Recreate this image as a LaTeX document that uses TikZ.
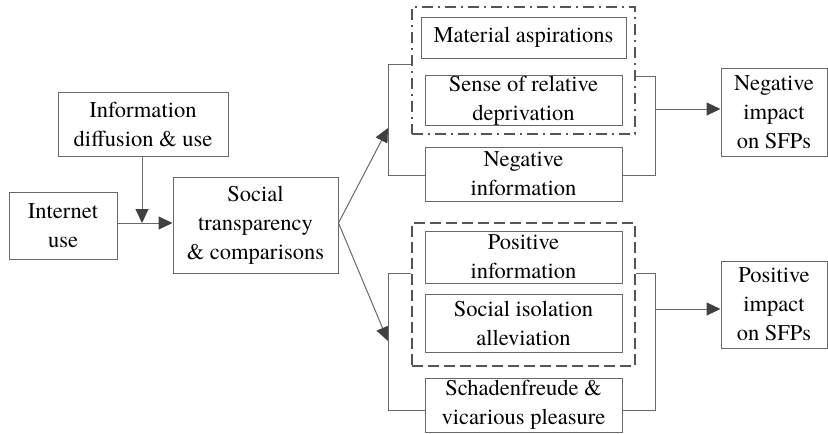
\documentclass[tikz,border=0pt]{standalone}
\usepackage{fontspec}
\setmainfont{texgyretermes}[Extension=.otf, UprightFont=*-regular, BoldFont=*-bold, ItalicFont=*-italic, BoldItalicFont=*-bolditalic]
\usetikzlibrary{arrows.meta}
\definecolor{linegray}{RGB}{105,105,105}
\definecolor{headgray}{RGB}{64,64,64}
\definecolor{grpgray}{RGB}{85,85,85}
\begin{document}
\begin{tikzpicture}[x=1pt,y=-1pt,
  box/.style={draw=linegray, line width=1pt, inner sep=0pt, align=center,
    font=\rmfamily\fontsize{22.5}{29}\selectfont, text=black},
  grpdd/.style={draw=grpgray, line width=1.8pt, inner sep=0pt,
    dash pattern=on 11pt off 5pt on 2pt off 5pt},
  grpdash/.style={draw=grpgray, line width=1.8pt, inner sep=0pt,
    dash pattern=on 11pt off 5pt},
  conn/.style={draw=linegray, line width=1pt},
  arr/.style={conn, -{Triangle[length=14pt,width=13pt,fill=headgray,color=headgray]}}
]
\useasboundingbox (0,0) rectangle (828,434);

% left part
\node[box, minimum width=170pt, minimum height=64pt] (info) at (143,124) {Information\\diffusion \& use};
\node[box, minimum width=108pt, minimum height=67pt] (inet) at (63,225.5) {Internet\\use};
\node[box, minimum width=165pt, minimum height=96pt] (soc) at (255.5,225) {Social\\transparency\\\& comparisons};

% groups
\node[grpdd, minimum width=223pt, minimum height=127pt] (ngrp) at (523.5,70.5) {};
\node[grpdash, minimum width=223pt, minimum height=143pt] (pgrp) at (523.5,294.5) {};

% middle boxes
\node[box, minimum width=205pt, minimum height=41pt] (mat) at (523.5,37.5) {Material aspirations};
\node[box, minimum width=197pt, minimum height=49pt] (sense) at (523.5,100.5) {Sense of relative\\deprivation};
\node[box, minimum width=197pt, minimum height=54pt] (neginfo) at (523.5,174) {Negative\\information};
\node[box, minimum width=197pt, minimum height=52pt] (posinfo) at (523.5,257) {Positive\\information};
\node[box, minimum width=197pt, minimum height=58pt] (iso) at (523.5,323) {Social isolation\\alleviation};
\node[box, minimum width=197pt, minimum height=54pt] (schad) at (523.5,405) {Schadenfreude \&\\vicarious pleasure};

% right boxes
\node[box, minimum width=106pt, minimum height=88pt] (negimp) at (774,112) {Negative\\impact\\on SFPs};
\node[box, minimum width=106pt, minimum height=87pt] (posimp) at (774,304.5) {Positive\\impact\\on SFPs};

% coordinates
\coordinate (join) at (142,223);
\coordinate (nlt) at (388,64);
\coordinate (nlb) at (388,175);
\coordinate (nrt) at (655,76);
\coordinate (nrb) at (655,175);
\coordinate (nrm) at (655,109);
\coordinate (plt) at (388,273);
\coordinate (plb) at (388,410);
\coordinate (prt) at (655,273);
\coordinate (prb) at (655,410);
\coordinate (prm) at (655,309);
\coordinate (nat) at (388,128);
\coordinate (pat) at (388,341);

% connectors left
\draw[arr] (inet.east |- join) -- (soc.west |- join);
\draw[arr] (info.south -| join) -- (join);

% split arrows
\draw[arr] (soc.east |- join) -- (nat);
\draw[arr] (soc.east |- join) -- (pat);

% negative brackets
\draw[conn] (ngrp.west |- nlt) -- (nlt) -- (nlb) -- (neginfo.west |- nlb);
\draw[conn] (ngrp.east |- nrt) -- (nrt) -- (nrb) -- (neginfo.east |- nrb);
\draw[arr] (nrm) -- (negimp.west |- nrm);

% positive brackets
\draw[conn] (pgrp.west |- plt) -- (plt) -- (plb) -- (schad.west |- plb);
\draw[conn] (pgrp.east |- prt) -- (prt) -- (prb) -- (schad.east |- prb);
\draw[arr] (prm) -- (posimp.west |- prm);
\end{tikzpicture}
\end{document}
